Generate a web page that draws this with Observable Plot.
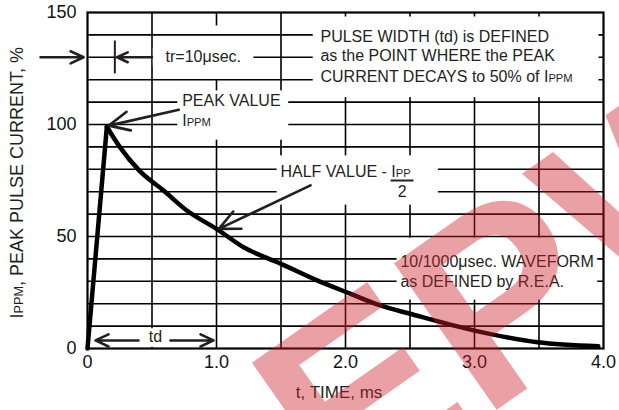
<!DOCTYPE html>
<html><head><meta charset="utf-8">
<script src="https://cdn.jsdelivr.net/npm/d3@7"></script>
<script src="https://cdn.jsdelivr.net/npm/@observablehq/plot@0.6"></script>
<style>
html,body{margin:0;padding:0;background:#fff;overflow:hidden;}
#chart svg{display:block;}
</style></head><body><div id="chart"></div>
<script>
// ---- data ----
const time    = [0, 0.15, 0.25, 0.4, 0.59, 0.77, 1.0, 1.21, 1.5, 1.78, 2.04, 2.27, 2.5, 3.0, 3.49, 3.96];
const current = [0, 99, 90, 79.5, 70.5, 61.6, 53.4, 45.2, 37.8, 30.4, 24.4, 19.2, 15.5, 8.0, 2.8, 1.0];

const xTickValues = [0, 1, 2, 3, 4];
const xTickLabels = ["0", "1.0", "2.0", "3.0", "4.0"];
const yTickValues = [0, 50, 100, 150];
const xGridValues = [0.5, 1, 1.5, 2, 2.5, 3, 3.5];
const yGridValues = [10, 20, 30, 40, 50, 60, 70, 80, 90, 100, 110, 120, 130, 140];

const xTitle = "t, TIME, ms";
const yTitle = "I{PPM}, PEAK PULSE CURRENT, %";

// annotations (text, anchor position in data units)
const noteText   = ["PULSE WIDTH (td) is DEFINED", "as the POINT WHERE the PEAK", "CURRENT DECAYS to 50% of I{PPM}",
                    "tr=10\u03bcsec.", "PEAK VALUE", "I{PPM}", "HALF VALUE - I{PP}", "2",
                    "10/1000\u03bcsec. WAVEFORM", "as DEFINED by R.E.A.", "td"];
const noteT      = [1.806, 1.806, 1.806, 0.605, 0.734, 0.734, 1.496, 2.44, 2.426, 2.426, 0.527];
const noteV      = [139, 130.5, 121.1, 130, 110.7, 101.5, 78.7, 69.8, 38.5, 29.6, 5];
const noteAnchor = ["start", "start", "start", "start", "start", "start", "start", "middle", "start", "start", "middle"];

// arrows: from (t1,v1) to head at (t2,v2)
const arrowT1 = [-0.364, 0.50, 0.708, 1.729, 0.395, 0.643];
const arrowV1 = [130, 130, 106.6, 72.8, 3.6, 3.6];
const arrowT2 = [-0.03, 0.23, 0.165, 1.018, 0.062, 0.977];
const arrowV2 = [130, 130, 99.5, 53.4, 3.6, 3.6];

// small marker for tr and fraction bar
const tickT1 = [0.212, 2.35];  const tickT2 = [0.212, 2.527];
const tickV1 = [122.8, 75];    const tickV2 = [137.5, 75];

// blank areas behind the labels
const vBlankT1 = [0.55, 0.70, 1.90, 1.45, 2.40, 0.10];
const vBlankT2 = [1.25, 1.56, 3.90, 2.70, 3.90, 0.90];
const vBlankV1 = [120, 93, 112, 64, 21.6, 0.5];
const vBlankV2 = [144, 115, 148, 85, 49.3, 8.8];
const hBlankT1 = [0.51, 0.70, 1.75, 1.47, 2.40];
const hBlankT2 = [1.29, 1.56, 3.965, 2.72, 3.955];
const hBlankV1 = [126, 96, 116, 66, 26];
const hBlankV2 = [134, 114, 146, 86, 44];

const watermark = ["EPW"];

// ---- build tables ----
const curve = time.map((t, i) => ({t, v: current[i]}));
const rise = curve.slice(0, 2);
const decay = curve.slice(1);
const notes = noteText.map((s, i) => ({s, t: noteT[i], v: noteV[i], a: noteAnchor[i]}));
const arrows = arrowT1.map((t, i) => ({t1: t, v1: arrowV1[i], t2: arrowT2[i], v2: arrowV2[i]}));
const ticks = tickT1.map((t, i) => ({t1: t, t2: tickT2[i], v1: tickV1[i], v2: tickV2[i]}));
const vBlanks = vBlankT1.map((t, i) => ({t1: t, t2: vBlankT2[i], v1: vBlankV1[i], v2: vBlankV2[i]}));
const hBlanks = hBlankT1.map((t, i) => ({t1: t, t2: hBlankT2[i], v1: hBlankV1[i], v2: hBlankV2[i]}));

const ink = "#231f20";
const font = "'Liberation Sans', Arial, sans-serif";

const chart = Plot.plot({
  width: 619, height: 410,
  marginLeft: 87, marginRight: 16, marginTop: 12, marginBottom: 62,
  x: {domain: [0, 4], axis: null},
  y: {domain: [0, 150], axis: null},
  style: {fontFamily: font, fontSize: "16px", color: ink, background: "white", overflow: "hidden"},
  marks: [
    Plot.ruleX(xGridValues, {x: d => d, stroke: "black", strokeWidth: 1.6}),
    Plot.rect(vBlanks, {x1: "t1", x2: "t2", y1: "v1", y2: "v2", fill: "white"}),
    Plot.ruleY(yGridValues, {y: d => d, stroke: "black", strokeWidth: 1.6}),
    Plot.rect(hBlanks, {x1: "t1", x2: "t2", y1: "v1", y2: "v2", fill: "white"}),
    Plot.frame({stroke: "black", strokeWidth: 2.2}),
    Plot.line(rise, {x: "t", y: "v", stroke: "black", strokeWidth: 4.5, strokeLinejoin: "miter"}),
    Plot.line(decay, {x: "t", y: "v", stroke: "black", strokeWidth: 4.5, curve: "monotone-x"}),
    Plot.link(ticks, {x1: "t1", x2: "t2", y1: "v1", y2: "v2", stroke: ink, strokeWidth: 2}),
    Plot.arrow(arrows, {x1: "t1", y1: "v1", x2: "t2", y2: "v2", stroke: ink, strokeWidth: 2.6, headLength: 13, headAngle: 50}),
    Plot.text(notes.filter(d => d.a === "start"), {x: "t", y: "v", text: "s", textAnchor: "start", fill: ink, fontSize: 16, lineAnchor: "middle"}),
    Plot.text(notes.filter(d => d.a === "middle"), {x: "t", y: "v", text: "s", textAnchor: "middle", fill: ink, fontSize: 16, lineAnchor: "middle"}),
    Plot.text(xTickValues, {x: d => d, text: (d, i) => xTickLabels[i], frameAnchor: "bottom", lineAnchor: "top", dy: 7, fontSize: 18, fill: "#111"}),
    Plot.text(yTickValues, {y: d => d, text: d => String(d), frameAnchor: "left", textAnchor: "end", dx: -11, fontSize: 18, fill: "#111"}),
    Plot.text([xTitle], {x: () => 1.95, text: d => d, frameAnchor: "bottom", textAnchor: "middle", dy: 49, fontSize: 17, fill: ink}),
    Plot.text([yTitle], {y: () => 74, text: d => d, frameAnchor: "left", textAnchor: "middle", dx: -70, rotate: -90, fontSize: 18, fill: ink}),
    Plot.text(watermark, {x: () => 3.47, y: () => 30, text: d => d, rotate: -35, fontSize: 260, fontWeight: "bold",
      fill: "#cc1f2a", fillOpacity: 0.42, fontFamily: font})
  ]
});

// small-caps subscripts written as {..}
const NS = "http://www.w3.org/2000/svg";
d3.select(chart).selectAll("text").each(function () {
  const s = this.textContent;
  if (!s.includes("{")) return;
  this.textContent = "";
  for (const p of s.split(/(\{[^}]*\})/)) {
    if (!p) continue;
    const ts = document.createElementNS(NS, "tspan");
    if (p.startsWith("{")) { ts.textContent = p.slice(1, -1); ts.style.fontSize = "70%"; }
    else ts.textContent = p;
    this.appendChild(ts);
  }
});

document.getElementById("chart").appendChild(chart);
</script>
</body></html>
